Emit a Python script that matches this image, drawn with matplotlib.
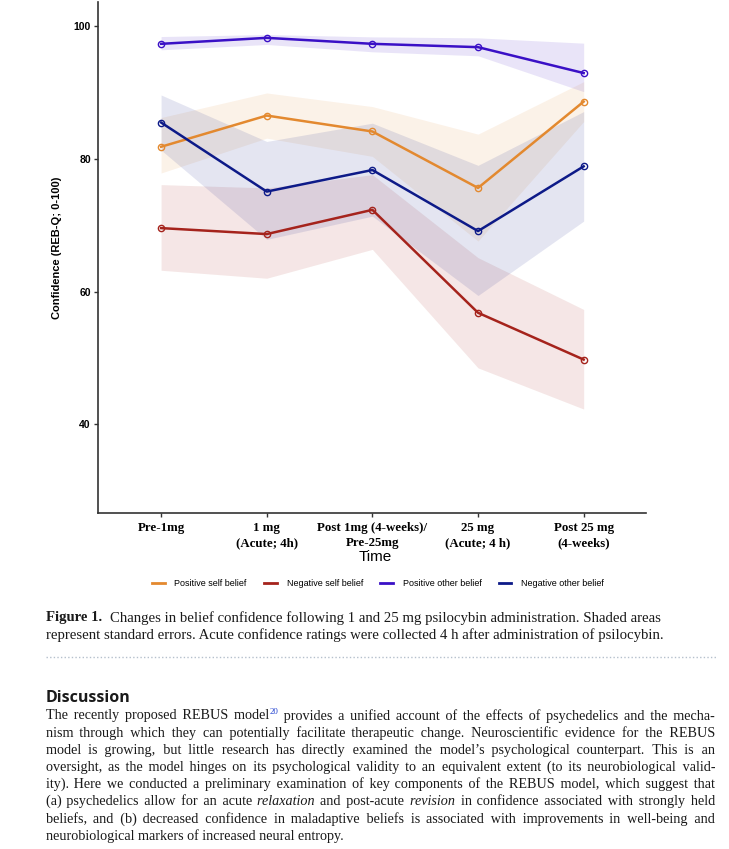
import matplotlib
matplotlib.use("Agg")
import matplotlib.pyplot as plt
from matplotlib.lines import Line2D
from matplotlib.font_manager import FontProperties

# --- data ---------------------------------------------------------------
categories = [
    "Pre-1mg",
    "1 mg\n(Acute; 4h)",
    "Post 1mg (4-weeks)/\nPre-25mg",
    "25 mg\n(Acute; 4 h)",
    "Post 25 mg\n(4-weeks)",
]

pos_self = [81.8, 86.5, 84.1, 75.6, 88.6]
pos_self_hi = [86.2, 89.9, 87.85, 83.7, 91.6]
pos_self_lo = [77.85, 83.1, 80.35, 67.6, 85.6]

neg_self = [69.55, 68.65, 72.3, 56.8, 49.75]
neg_self_hi = [76.1, 75.6, 77.6, 65.1, 57.3]
neg_self_lo = [63.2, 62.0, 66.35, 48.5, 42.3]

pos_other = [97.3, 98.2, 97.3, 96.8, 92.9]
pos_other_hi = [98.4, 98.7, 98.35, 98.2, 97.4]
pos_other_lo = [96.4, 97.2, 96.1, 95.5, 90.1]

neg_other = [85.45, 75.05, 78.3, 69.1, 78.85]
neg_other_hi = [89.6, 82.6, 85.35, 79.0, 87.1]
neg_other_lo = [81.3, 67.85, 71.35, 59.4, 70.6]

series_names = ["Positive self belief", "Negative self belief",
                "Positive other belief", "Negative other belief"]
series_colors = ["#E3892F", "#A5231C", "#3A10C6", "#0D1A88"]

y_ticks = [40, 60, 80, 100]

caption_bold = "Figure 1."
caption_lines = [
    "Changes in belief confidence following 1 and 25 mg psilocybin administration. Shaded areas",
    "represent standard errors. Acute confidence ratings were collected 4 h after administration of psilocybin.",
]

heading = "Discussion"
para_lines = [
    "The recently proposed REBUS model^20 provides a unified account of the effects of psychedelics and the mecha-",
    "nism through which they can potentially facilitate therapeutic change. Neuroscientific evidence for the REBUS",
    "model is growing, but little research has directly examined the model\u2019s psychological counterpart. This is an",
    "oversight, as the model hinges on its psychological validity to an equivalent extent (to its neurobiological valid-",
    "ity). Here we conducted a preliminary examination of key components of the REBUS model, which suggest that",
    "(a) psychedelics allow for an acute _relaxation_ and post-acute _revision_ in confidence associated with strongly held",
    "beliefs, and (b) decreased confidence in maladaptive beliefs is associated with improvements in well-being and",
    "neurobiological markers of increased neural entropy.",
]

W, H = 729, 849
DPI = 100
SANS = "Liberation Sans"
SERIF = ["Liberation Serif", "DejaVu Serif"]
TEXT_COLOR = "#1a1a1a"
HAIR = "\u200a"


def fx(x):
    return x / W


def fy(y):
    return 1 - y / H


fig = plt.figure(figsize=(W / DPI, H / DPI), dpi=DPI)
ax = fig.add_axes([fx(97.7), fy(513.3), (646 - 97.7) / W, (513.3 - 2) / H])

xs = list(range(len(categories)))
bands = [
    (pos_self, pos_self_lo, pos_self_hi),
    (neg_self, neg_self_lo, neg_self_hi),
    (pos_other, pos_other_lo, pos_other_hi),
    (neg_other, neg_other_lo, neg_other_hi),
]

for (mean, lo, hi), color in zip(bands, series_colors):
    ax.fill_between(xs, lo, hi, color=color, alpha=0.11, linewidth=0)

for (mean, lo, hi), color in zip(bands, series_colors):
    ax.plot(xs, mean, color=color, linewidth=1.8, marker="o",
            markersize=4.5, markerfacecolor="none", markeredgewidth=1.0)

ax.set_xlim(-0.6, 4.59)
ax.set_ylim(26.6, 103.6)
ax.set_yticks(y_ticks)
ax.set_yticklabels([str(t) for t in y_ticks], fontfamily=SANS,
                   fontweight="bold", fontsize=7.5)
ax.set_xticks(xs)
ax.set_xticklabels(categories, fontfamily=SERIF[0], fontweight="bold",
                   fontsize=9.3, linespacing=1.35)
ax.tick_params(axis="both", length=3, width=1, color="#333333", pad=2)
ax.tick_params(axis="x", pad=3)
for side in ["top", "right"]:
    ax.spines[side].set_visible(False)
for side in ["left", "bottom"]:
    ax.spines[side].set_linewidth(1.2)
    ax.spines[side].set_color("#333333")

ax.set_ylabel("Confidence (REB-Q; 0-100)", fontfamily=SANS,
              fontweight="bold", fontsize=8)
ax.yaxis.set_label_coords(-0.066, 0.52)

fig.text(fx(375), fy(557), "Time", fontfamily=SANS, fontsize=11,
         ha="center", va="center")

handles = [Line2D([0], [0], color=c, linewidth=2) for c in series_colors]
fig.legend(handles, series_names, loc="center",
           bbox_to_anchor=(fx(378), fy(584)), ncol=4, frameon=False,
           prop=FontProperties(family=SANS, size=6.5), handlelength=1.4,
           columnspacing=1.9, handletextpad=1.1)

# --- caption and article text -------------------------------------------
fig.canvas.draw()
renderer = fig.canvas.get_renderer()


def ink_width(s, prop):
    w, h, d = renderer.get_text_width_height_descent(s, prop, ismath=False)
    return w


def advance(s, prop):
    # width including trailing spaces, measured against a reference glyph
    return ink_width("|" + s + "|", prop) - ink_width("||", prop)


def parse_word(word):
    if word.startswith("_") and word.endswith("_"):
        return [(word.strip("_"), "italic")]
    if "^" in word:
        base, sup = word.split("^")
        return [(base, "normal"), (sup, "sup")]
    return [(word, "normal")]


def draw_line(line, x0, y, size, target=None):
    props = {
        "normal": FontProperties(family=SERIF, size=size),
        "italic": FontProperties(family=SERIF, size=size, style="italic"),
        "sup": FontProperties(family=SERIF, size=size * 0.62),
    }
    words = [parse_word(w) for w in line.split(" ")]
    n_gaps = len(words) - 1
    hairs = [0] * n_gaps
    if target is not None and n_gaps > 0:
        natural = sum(advance(t, props[k]) for parts in words for t, k in parts)
        natural += n_gaps * advance(" ", props["normal"])
        hair_w = advance(HAIR, props["normal"])
        total = max(0, int(round((target - natural) / hair_w)))
        hairs = [total * (i + 1) // n_gaps - total * i // n_gaps
                 for i in range(n_gaps)]

    # merge into runs of the same style; separators go with normal text
    runs = []
    for i, parts in enumerate(words):
        for t, k in parts:
            if runs and runs[-1][1] == k:
                runs[-1][0] += t
            else:
                runs.append([t, k])
        if i < n_gaps:
            sep = " " + HAIR * hairs[i]
            if runs[-1][1] == "sup":
                runs.append([sep, "normal"])
            else:
                runs[-1][0] += sep

    x = x0
    for t, k in runs:
        if k == "sup":
            fig.text(fx(x + 0.3), fy(y - 4.5), t, fontproperties=props[k],
                     color="#2040D0", va="center")
        else:
            fig.text(fx(x), fy(y), t, fontproperties=props[k],
                     color=TEXT_COLOR, va="center")
        x += advance(t, props[k])


cap_size = 10.6
bold_prop = FontProperties(family=SERIF, size=cap_size, weight="bold")
fig.text(fx(46), fy(618), caption_bold, fontproperties=bold_prop,
         color=TEXT_COLOR, va="center")
bw = advance(caption_bold + "  ", bold_prop)
draw_line(caption_lines[0], 46 + bw, 618, cap_size)
draw_line(caption_lines[1], 46, 635, cap_size)

fig.add_artist(Line2D([fx(46), fx(716)], [fy(657), fy(657)],
                      transform=fig.transFigure, linestyle=(0, (1, 1.6)),
                      color="#B5C0CC", linewidth=1))

fig.text(fx(46), fy(698), heading, fontfamily="Open Sans", fontweight="bold",
         fontsize=11.5, color=TEXT_COLOR, va="center")

para_size = 10.2
for i, line in enumerate(para_lines):
    y = 716 + i * 17.1
    target = 669 if i < len(para_lines) - 1 else None
    draw_line(line, 46, y, para_size, target)

fig.savefig("out.png", dpi=DPI)
